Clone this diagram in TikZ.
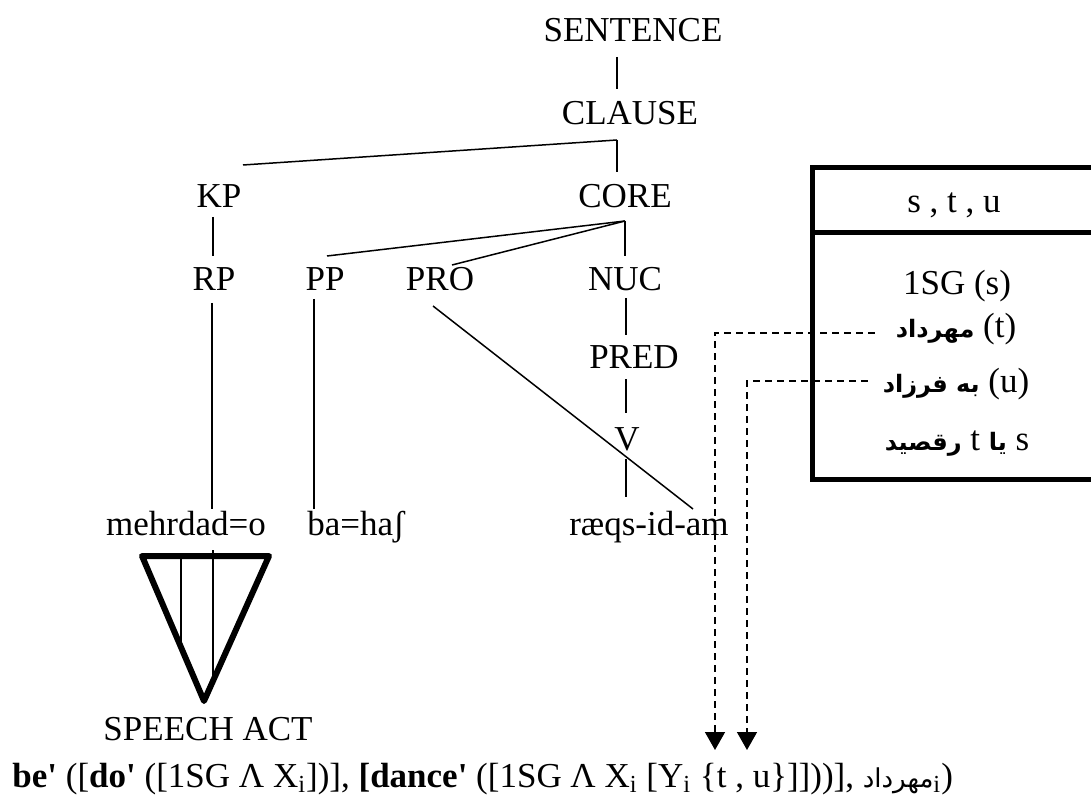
\documentclass[tikz,border=0pt]{standalone}
\usepackage{fontspec}
\setmainfont{Liberation Serif}
\newfontfamily\fa[Script=Arabic]{DejaVu Sans}
\TeXXeTstate=1
\usetikzlibrary{arrows.meta}

\newcommand{\mainsize}{\fontsize{17.5pt}{20pt}\selectfont}
\newcommand{\fasize}{\fontsize{12pt}{14pt}\selectfont}
\newcommand{\fbsize}{\fontsize{13pt}{15pt}\selectfont}
\newcommand{\pr}{\textquotesingle}

\tikzset{
  lbl/.style={anchor=base, inner sep=0pt, outer sep=0pt,
              text height=11.7pt, text depth=0pt, font=\mainsize},
  branch/.style={line width=0.75pt},
  thick edge/.style={line width=3pt, line join=round},
  frame/.style={line width=2.5pt},
  dropline/.style={line width=0.75pt, dash pattern=on 3.5pt off 2.5pt,
                   -{Triangle[width=10pt,length=9pt]}},
}

\begin{document}
\begin{tikzpicture}[x=0.5pt,y=-0.5pt]
\useasboundingbox (0,0) rectangle (1091,796);

% tree labels
\node[lbl] (sentence) at (633,42)  {SENTENCE};
\node[lbl] (clause)   at (630,125) {CLAUSE};
\node[lbl] (kp)       at (219,208) {KP};
\node[lbl] (core)     at (625,208) {CORE};
\node[lbl] (rp)       at (214,291) {RP};
\node[lbl] (pp)       at (325,291) {PP};
\node[lbl] (pro)      at (440,291) {PRO};
\node[lbl] (nuc)      at (625,291) {NUC};
\node[lbl] (pred)     at (634,368) {PRED};
\node[lbl] (v)        at (627,450) {V};
\node[lbl] (mehrdad)  at (186,535) {mehrdad=o};
\node[lbl] (baha)     at (356,535) {ba=haʃ};
\node[lbl] (raeqs)    at (649,535) {ræqs-id-am};
\node[lbl] (speech)   at (208,740) {SPEECH ACT};

% branches
\draw[branch] ([xshift=-8pt,yshift=-7.5pt]sentence.south) -- ([xshift=-6.5pt,yshift=6.3pt]clause.north);
\draw[branch] ([xshift=-6.5pt,yshift=-7.5pt]clause.south) -- ([xshift=12pt,yshift=9.8pt]kp.north);
\draw[branch] ([xshift=-6.5pt,yshift=-7.5pt]clause.south) -- ([xshift=-4pt,yshift=6.3pt]core.north);
\draw[branch] ([xshift=-3pt,yshift=-4.5pt]kp.south) -- ([xshift=-0.5pt,yshift=5.8pt]rp.north);
\draw[branch] ([yshift=-6.5pt]core.south) -- ([xshift=1pt,yshift=5.8pt]pp.north);
\draw[branch] ([yshift=-6.5pt]core.south) -- ([xshift=6pt,yshift=1.3pt]pro.north);
\draw[branch] ([yshift=-6.5pt]core.south) -- ([yshift=5.8pt]nuc.north);
\draw[branch] ([xshift=-1pt,yshift=-6pt]rp.south) -- ([xshift=13pt,yshift=1.3pt]mehrdad.north);
\draw[branch] ([xshift=-5.5pt,yshift=-4pt]pp.south) -- ([xshift=-21pt,yshift=1.3pt]baha.north);
\draw[branch] ([xshift=-3.5pt,yshift=-7.5pt]pro.south) -- ([xshift=22pt,yshift=1.3pt]raeqs.north);
\draw[branch] ([xshift=0.5pt,yshift=-3.5pt]nuc.south) -- ([xshift=-4pt,yshift=4.8pt]pred.north);
\draw[branch] ([xshift=-4pt,yshift=-5.5pt]pred.south) -- ([xshift=-0.5pt,yshift=6.8pt]v.north);
\draw[branch] ([xshift=-0.5pt,yshift=-4.5pt]v.south) -- ([xshift=-11.5pt,yshift=7.3pt]raeqs.north);

% speech-act triangle
\draw[thick edge] (142,556) -- (269,556) -- (204,701) -- cycle;
\draw[branch] (181,556) -- (181,647);
\draw[branch] (213,550) -- (213,681);

% referent box
\draw[frame] (812,168) rectangle (1120,479);
\draw[frame] (812,233) -- (1120,233);
\node[lbl] (vars) at (954,213) {s , t , u};
\node[lbl] (srow) at (957,295) {1SG (s)};
\node[lbl] (trow) at (956,337) {{\fa\fasize\bfseries مهرداد} (t)};
\node[lbl] (urow) at (956,393) {{\fa\fasize\bfseries\beginR به فرزاد\endR} (u)};
\node[lbl] (wrow) at (957,450) {{\fa\fasize\bfseries رقصید} t {\fa\fasize\bfseries یا} s};

% linking arrows
\coordinate (tdrop) at (715,750);
\coordinate (udrop) at (747,750);
\draw[dropline] ([xshift=-10.5pt,yshift=2pt]trow.base west) -| (tdrop);
\draw[dropline] ([xshift=-7.5pt,yshift=6pt]urow.base west) -| (udrop);

% semantic representation
\node[anchor=base west, inner sep=0pt, font=\mainsize] (formula) at (12,787)
  {\textbf{be\pr} ([\textbf{do\pr} ([1SG Λ X\textsubscript{i}])], \textbf{[dance\pr} ([1SG Λ X\textsubscript{i} [Y\textsubscript{i} \{t , u\}]]))], {\fa\fbsize مهرداد}\textsubscript{i})};
\end{tikzpicture}
\end{document}
